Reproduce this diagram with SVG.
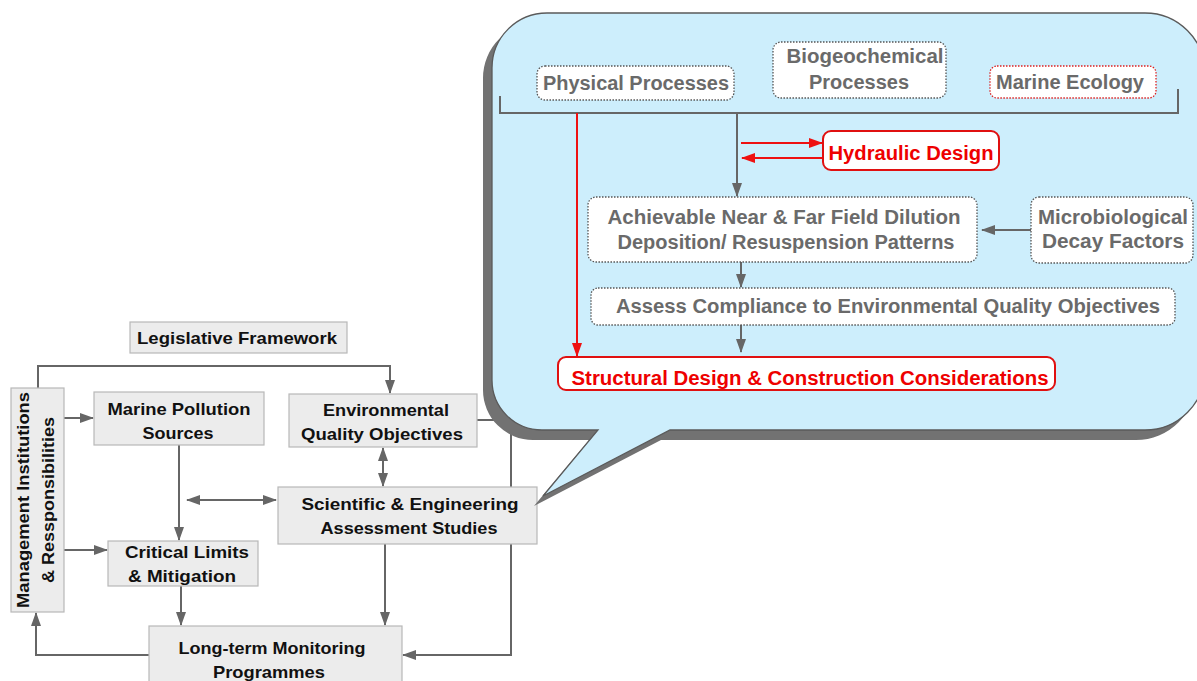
<svg xmlns="http://www.w3.org/2000/svg" width="1197" height="681" viewBox="0 0 1197 681">
<defs>
<style>
.box{fill:#ececec;stroke:#b8b8b8;stroke-width:1.2}
.t{font-family:"Liberation Sans",Arial,sans-serif;font-weight:bold;font-size:16.5px;fill:#111;text-anchor:middle}
.bt{font-family:"Liberation Sans",Arial,sans-serif;font-weight:bold;font-size:20px;fill:#6a6a6a;text-anchor:middle}
.rt{fill:#ee0000}
.dot{fill:#fff;stroke:#555;stroke-width:1.3;stroke-dasharray:1.5 1.5}
.dotr{fill:#fff;stroke:#dd2222;stroke-width:1.3;stroke-dasharray:1.5 1.5}
.red{fill:#fff;stroke:#e01010;stroke-width:2}
.c{fill:none;stroke:#666;stroke-width:2}
.cr{fill:none;stroke:#ee1111;stroke-width:2}
</style>
<marker id="ag" markerUnits="userSpaceOnUse" markerWidth="14" markerHeight="10" refX="13" refY="5" orient="auto-start-reverse"><path d="M0,0 L14,5 L0,10 z" fill="#666"/></marker>
<marker id="ar" markerUnits="userSpaceOnUse" markerWidth="14" markerHeight="10" refX="13" refY="5" orient="auto-start-reverse"><path d="M0,0 L14,5 L0,10 z" fill="#ee1111"/></marker>
</defs>
<rect width="1197" height="681" fill="#fff"/>

<g id="connectors">
<path class="c" d="M38,388 V366 H390 V393" marker-end="url(#ag)"/>
<path class="c" d="M64,418 H93" marker-end="url(#ag)"/>
<path class="c" d="M64,550 H107" marker-end="url(#ag)"/>
<path class="c" d="M179,445 V540" marker-end="url(#ag)"/>
<path class="c" d="M187,500 H276" marker-start="url(#ag)" marker-end="url(#ag)"/>
<path class="c" d="M383,448 V486" marker-start="url(#ag)" marker-end="url(#ag)"/>
<path class="c" d="M181,586 V625" marker-end="url(#ag)"/>
<path class="c" d="M385,544 V625" marker-end="url(#ag)"/>
<path class="c" d="M477,420 H511 V655 H403" marker-end="url(#ag)"/>
<path class="c" d="M149,655 H36 V613" marker-end="url(#ag)"/>
</g>

<g id="legislative"><rect class="box" x="130" y="322" width="217" height="31"/><text class="t" x="237" y="344" textLength="200" lengthAdjust="spacingAndGlyphs">Legislative Framework</text></g>
<g id="management"><rect class="box" x="11" y="388" width="53" height="224"/>
<text class="t" transform="translate(29,500) rotate(-90)" textLength="216" lengthAdjust="spacingAndGlyphs">Management Institutions</text>
<text class="t" transform="translate(54,500) rotate(-90)" textLength="166" lengthAdjust="spacingAndGlyphs">&amp; Ressponsibilities</text></g>
<g id="pollution"><rect class="box" x="94" y="392" width="170" height="53"/><text class="t" x="179" y="415" textLength="143" lengthAdjust="spacingAndGlyphs">Marine Pollution</text><text class="t" x="178" y="439" textLength="71" lengthAdjust="spacingAndGlyphs">Sources</text></g>
<g id="eqo"><rect class="box" x="289" y="394" width="188" height="53"/><text class="t" x="386" y="416" textLength="126" lengthAdjust="spacingAndGlyphs">Environmental</text><text class="t" x="382" y="440" textLength="162" lengthAdjust="spacingAndGlyphs">Quality Objectives</text></g>
<g id="scientific"><rect class="box" x="278" y="487" width="259" height="57"/><text class="t" x="410" y="510" textLength="217" lengthAdjust="spacingAndGlyphs">Scientific &amp; Engineering</text><text class="t" x="409" y="534" textLength="177" lengthAdjust="spacingAndGlyphs">Assessment Studies</text></g>
<g id="critical"><rect class="box" x="108" y="541" width="150" height="45"/><text class="t" x="187" y="558" textLength="124" lengthAdjust="spacingAndGlyphs">Critical Limits</text><text class="t" x="182" y="582" textLength="108" lengthAdjust="spacingAndGlyphs">&amp; Mitigation</text></g>
<g id="monitoring"><rect class="box" x="149" y="626" width="253" height="70"/><text class="t" x="272" y="654" textLength="187" lengthAdjust="spacingAndGlyphs">Long-term Monitoring</text><text class="t" x="269" y="678" textLength="112" lengthAdjust="spacingAndGlyphs">Programmes</text></g>

<g id="bubble">
<path transform="translate(-9,10)" fill="#727272" d="M547,13 H1145 A60,60 0 0 1 1205,73 V370 A60,60 0 0 1 1145,430 H670 L543,496 L598,430 H542 A50,50 0 0 1 492,380 V68 A55,55 0 0 1 547,13 Z"/>
<path fill="#cdeefc" stroke="#5a5a5a" stroke-width="1.3" d="M547,13 H1145 A60,60 0 0 1 1205,73 V370 A60,60 0 0 1 1145,430 H670 L543,496 L598,430 H542 A50,50 0 0 1 492,380 V68 A55,55 0 0 1 547,13 Z"/>
</g>

<g id="bubble-connectors">
<path class="c" d="M500,96 V113 H1178 V89"/>
<path class="cr" d="M577,113 V356" marker-end="url(#ar)"/>
<path class="c" d="M737,113 V196" marker-end="url(#ag)"/>
<path class="cr" d="M741,143 H822" marker-end="url(#ar)"/>
<path class="cr" d="M823,158 H742" marker-end="url(#ar)"/>
<path class="c" d="M1031,230 H982" marker-end="url(#ag)"/>
<path class="c" d="M741,262 V287" marker-end="url(#ag)"/>
<path class="c" d="M741,325 V352" marker-end="url(#ag)"/>
</g>

<g id="physical"><rect class="dot" x="537" y="66" width="197" height="34" rx="8"/><text class="bt" x="636" y="90" textLength="186" lengthAdjust="spacingAndGlyphs">Physical Processes</text></g>
<g id="biogeo"><rect class="dot" x="773" y="42" width="173" height="56" rx="8"/><text class="bt" x="865" y="63" textLength="157" lengthAdjust="spacingAndGlyphs">Biogeochemical</text><text class="bt" x="859" y="89" textLength="100" lengthAdjust="spacingAndGlyphs">Processes</text></g>
<g id="ecology"><rect class="dotr" x="990" y="66" width="166" height="32" rx="7"/><text class="bt" x="1070" y="89" textLength="148" lengthAdjust="spacingAndGlyphs">Marine Ecology</text></g>
<g id="hydraulic"><rect class="red" x="823" y="131" width="176" height="39" rx="8"/><text class="bt rt" x="911" y="160" textLength="165" lengthAdjust="spacingAndGlyphs">Hydraulic Design</text></g>
<g id="dilution"><rect class="dot" x="588" y="197" width="389" height="65" rx="8"/><text class="bt" x="784" y="224" textLength="353" lengthAdjust="spacingAndGlyphs">Achievable Near &amp; Far Field Dilution</text><text class="bt" x="786" y="249" textLength="337" lengthAdjust="spacingAndGlyphs">Deposition/ Resuspension Patterns</text></g>
<g id="microbio"><rect class="dot" x="1031" y="197" width="162" height="66" rx="8"/><text class="bt" x="1113" y="224" textLength="150" lengthAdjust="spacingAndGlyphs">Microbiological</text><text class="bt" x="1113" y="248" textLength="142" lengthAdjust="spacingAndGlyphs">Decay Factors</text></g>
<g id="compliance"><rect class="dot" x="591" y="288" width="584" height="37" rx="7"/><text class="bt" x="888" y="313" textLength="544" lengthAdjust="spacingAndGlyphs">Assess Compliance to Environmental Quality Objectives</text></g>
<g id="structural"><rect class="red" x="558" y="357" width="497" height="33" rx="8"/><text class="bt rt" x="810" y="385" textLength="477" lengthAdjust="spacingAndGlyphs">Structural Design &amp; Construction Considerations</text></g>
</svg>
